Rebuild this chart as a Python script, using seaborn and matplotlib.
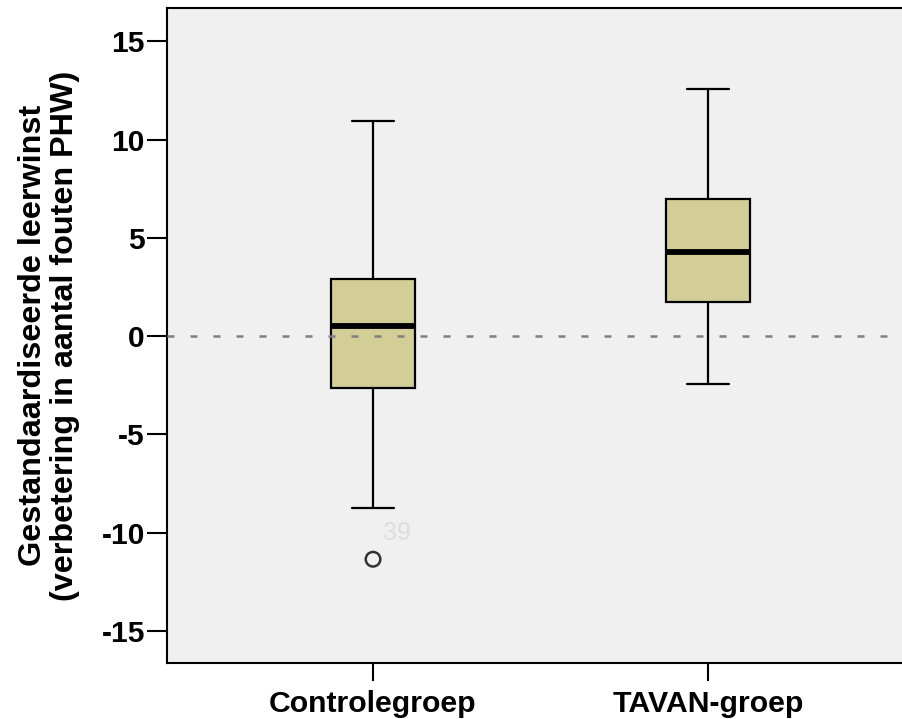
import numpy as np
import pandas as pd
import matplotlib
matplotlib.use("Agg")
import matplotlib.pyplot as plt
from matplotlib.collections import PathCollection
import seaborn as sns

# ---- data ----
groups = ["Controlegroep", "TAVAN-groep"]
whisker_low = [-8.75, -2.45]
q1 = [-2.65, 1.72]
median = [0.5, 4.28]
q3 = [2.9, 6.98]
whisker_high = [10.95, 12.58]
outlier_groups = ["Controlegroep"]
outlier_values = [-11.35]
outlier_labels = ["39"]
yticks = [-15, -10, -5, 0, 5, 10, 15]
ylabel = "Gestandaardiseerde leerwinst\n(verbetering in aantal fouten PHW)"

rows = []
for g, a, b, c, d, e in zip(groups, whisker_low, q1, median, q3, whisker_high):
    for v in (a, b, c, d, e):
        rows.append({"groep": g, "waarde": v})
df = pd.DataFrame(rows)
df_out = pd.DataFrame({"groep": outlier_groups, "waarde": outlier_values})

sns.set_style("white")
plt.rcParams["font.family"] = ["Liberation Sans", "DejaVu Sans"]

fig = plt.figure(figsize=(9.02, 7.19), dpi=100)
ax = fig.add_axes([167 / 902, 56 / 719, 1 - 167 / 902, (663 - 8) / 719])
ax.set_facecolor("#F0F0F0")

sns.boxplot(data=df, x="groep", y="waarde", order=groups, whis=(0, 100),
            width=0.25, color="#D3CE98", saturation=1, linecolor="black",
            linewidth=1.6, showfliers=False,
            medianprops=dict(linewidth=4.2, color="black"), ax=ax)

sns.stripplot(data=df_out, x="groep", y="waarde", order=groups, jitter=False,
              marker="o", size=10.5, linewidth=1.8, edgecolor="#333333",
              color="#333333", ax=ax, zorder=5)
for coll in ax.collections:
    if isinstance(coll, PathCollection) and len(coll.get_offsets()) == len(outlier_values):
        coll.set_facecolor("none")
        coll.set_edgecolor("#333333")

for g, v, lab in zip(outlier_groups, outlier_values, outlier_labels):
    ax.annotate(lab, (groups.index(g), v), xytext=(7.2, 18.7),
                textcoords="offset points", color="#DDDDDD", fontsize=18,
                va="center", ha="left")

ax.axhline(0, color="#808080", linewidth=1.8, dashes=(2.8, 6.4), zorder=4)

ax.set_ylim(-16.63, 16.70)
ax.set_xlim(-0.615, 1.579)
ax.set_yticks(yticks)
ax.set_yticklabels([str(t) for t in yticks], fontsize=21.6, fontweight="bold")
ax.set_xticks(range(len(groups)))
ax.set_xticklabels(groups, fontsize=21.8, fontweight="bold")
ax.set_xlabel("")
ax.set_ylabel(ylabel, fontsize=23.3, fontweight="bold", linespacing=1.1,
              color="black")
ax.yaxis.set_label_coords(-0.118, 0.5)

for side in ("left", "top", "bottom"):
    ax.spines[side].set_visible(True)
    ax.spines[side].set_color("black")
    ax.spines[side].set_linewidth(1.5)
ax.spines["right"].set_visible(False)
ax.tick_params(axis="both", which="both", direction="out", width=1.5,
               color="black", labelcolor="black", left=True, bottom=True)
ax.tick_params(axis="y", length=14.4, pad=1.5)
ax.tick_params(axis="x", length=13, pad=6.5)

fig.savefig("out.png", dpi=100, facecolor="white")
